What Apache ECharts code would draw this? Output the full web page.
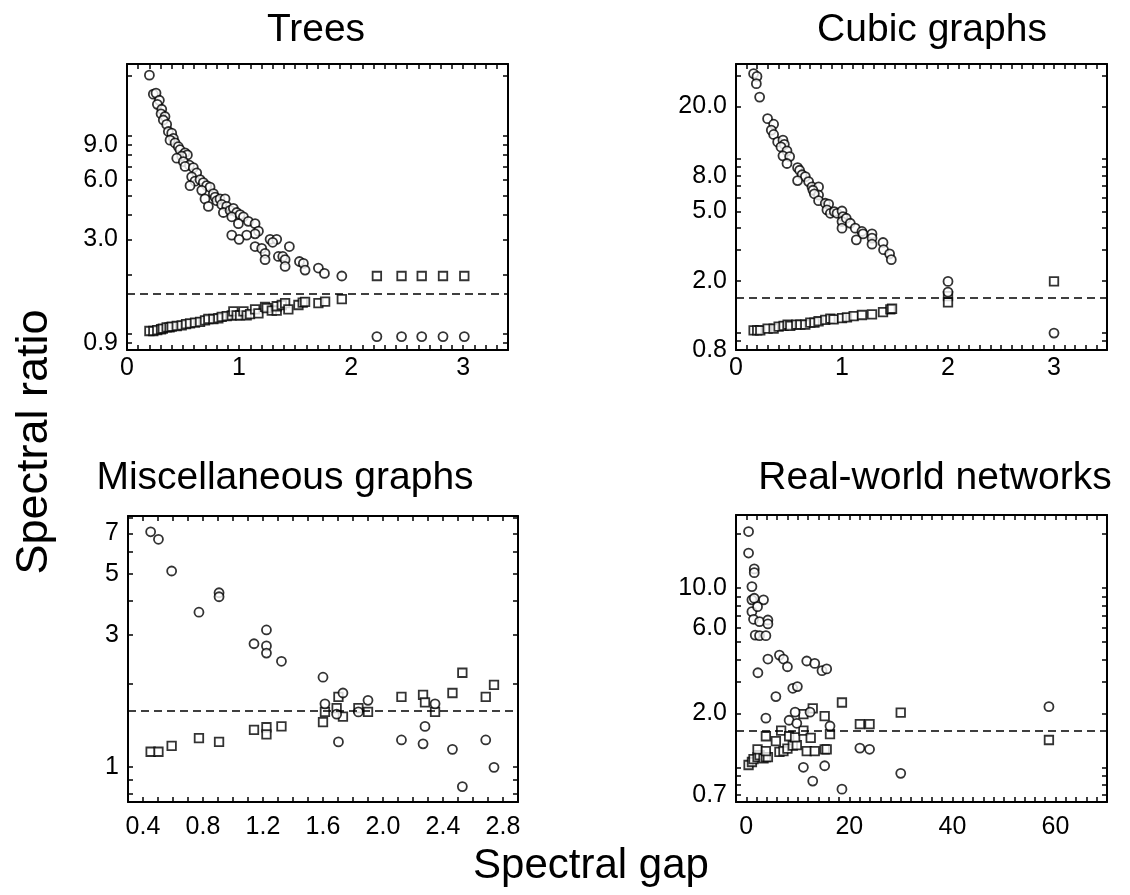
<!DOCTYPE html>
<html>
<head>
<meta charset="utf-8">
<script src="https://cdn.jsdelivr.net/npm/echarts@6/dist/echarts.min.js"></script>
<style>
  html, body { margin: 0; padding: 0; background: #fff; }
  #main { width: 1130px; height: 895px; }
</style>
</head>
<body>
<div id="main"></div>
<script>
// reference level (dashed line)
const refRatio = 1.6;

// Trees
const treesCircles = [
  [0.20,20.2],[0.235,16.2],[0.259,16.4],[0.289,15.1],[0.271,14.4],[0.31,13.6],[0.304,12.9],[0.339,12.5],
  [0.324,12.0],[0.354,11.4],[0.369,10.5],[0.399,10.3],[0.414,9.7],[0.384,9.5],[0.429,9.2],[0.458,8.8],
  [0.473,8.5],[0.518,8.2],[0.539,8.0],[0.488,7.9],[0.444,7.7],[0.503,7.4],[0.557,7.1],[0.518,7.0],
  [0.592,6.9],[0.622,6.5],[0.577,6.2],[0.607,5.9],[0.652,6.0],[0.681,5.8],[0.711,5.6],[0.741,5.5],
  [0.5625,5.6],[0.667,5.3],[0.696,4.8],[0.726,4.4],[0.771,5.1],[0.786,4.9],[0.801,4.7],[0.83,4.8],
  [0.875,4.8],[0.845,4.5],[0.89,4.4],[0.86,4.1],[0.92,4.2],[0.949,4.3],[0.979,4.1],[0.935,3.9],
  [1.009,4.0],[1.039,3.9],[0.994,3.6],[1.083,3.7],[1.143,3.6],[1.173,3.3],[1.143,3.2],[1.068,3.15],
  [0.935,3.15],[1.0,3.0],[1.277,3.0],[1.336,3.0],[1.30,2.9],[1.143,2.76],[1.202,2.7],[1.232,2.55],
  [1.232,2.37],[1.351,2.46],[1.39,2.46],[1.411,2.37],[1.411,2.19],[1.449,2.76],[1.539,2.32],[1.574,2.27],
  [1.589,2.10],[1.708,2.15],[1.762,2.02],[1.917,1.96],
  [2.23,0.97],[2.45,0.97],[2.63,0.97],[2.82,0.97],[3.01,0.97]
];
const treesSquares = [
  [0.20,1.035],[0.235,1.035],[0.27,1.045],[0.304,1.056],[0.32,1.065],[0.354,1.08],[0.38,1.08],[0.399,1.088],
  [0.444,1.097],[0.488,1.105],[0.527,1.12],[0.5625,1.13],[0.607,1.14],[0.652,1.15],[0.696,1.17],[0.726,1.19],
  [0.771,1.19],[0.815,1.2],[0.845,1.22],[0.89,1.23],[0.935,1.24],[0.949,1.30],[0.979,1.24],[1.009,1.24],
  [1.039,1.30],[1.068,1.24],[1.098,1.26],[1.143,1.33],[1.173,1.27],[1.232,1.37],[1.247,1.35],[1.292,1.31],
  [1.336,1.31],[1.336,1.38],[1.381,1.40],[1.411,1.43],[1.44,1.33],[1.53,1.40],[1.568,1.44],[1.589,1.45],
  [1.708,1.43],[1.768,1.455],[1.917,1.50],
  [2.23,1.96],[2.45,1.96],[2.63,1.96],[2.82,1.96],[3.01,1.96]
];

// Cubic graphs
const cubicCircles = [
  [0.166,30.8],[0.198,29.7],[0.192,27.0],[0.223,22.6],[0.298,17.0],[0.355,15.8],[0.333,14.6],[0.355,13.8],
  [0.393,12.5],[0.443,12.8],[0.456,12.1],[0.424,11.7],[0.481,11.1],[0.443,10.4],[0.506,10.3],[0.481,9.4],
  [0.581,8.9],[0.6,8.6],[0.623,8.1],[0.654,7.9],[0.581,7.5],[0.685,7.4],[0.717,6.9],[0.779,6.9],
  [0.726,6.6],[0.779,6.2],[0.739,6.3],[0.779,5.75],[0.842,5.56],[0.874,5.5],[0.858,5.09],[0.89,4.87],
  [0.927,4.98],[0.953,4.87],[1.0,5.02],[1.009,4.66],[1.0,4.37],[1.04,4.56],[1.0,4.0],[1.078,4.27],
  [1.125,4.0],[1.188,3.83],[1.198,3.71],[1.135,3.43],[1.283,3.71],[1.283,3.51],[1.283,3.24],[1.387,3.31],
  [1.392,3.01],[1.449,2.85],[1.465,2.64],
  [2.0,1.98],[2.0,1.72],[3.0,1.0]
];
const cubicSquares = [
  [0.166,1.036],[0.2,1.036],[0.229,1.036],[0.298,1.06],[0.355,1.06],[0.402,1.09],[0.449,1.10],[0.487,1.12],
  [0.512,1.10],[0.569,1.12],[0.607,1.12],[0.654,1.12],[0.701,1.15],[0.74,1.15],[0.779,1.17],[0.842,1.19],
  [0.89,1.21],[0.921,1.20],[1.0,1.22],[1.047,1.23],[1.11,1.25],[1.188,1.27],[1.283,1.28],[1.387,1.32],
  [1.456,1.37],[1.472,1.38],
  [2.0,1.63],[2.0,1.50],[3.0,1.98]
];

// Miscellaneous graphs
const miscCircles = [
  [0.451,7.1],[0.503,6.67],[0.591,5.12],[0.773,3.63],[0.907,4.27],[0.907,4.13],[1.14,2.79],[1.223,3.13],
  [1.223,2.74],[1.223,2.58],[1.323,2.41],[1.6,2.11],[1.613,1.69],[1.733,1.85],[1.691,1.55],[1.703,1.23],
  [1.836,1.58],[1.9,1.74],[2.123,1.25],[2.267,1.21],[2.28,1.40],[2.347,1.69],[2.463,1.156],[2.529,0.847],
  [2.685,1.25],[2.74,0.995]
];
const miscSquares = [
  [0.451,1.133],[0.503,1.133],[0.591,1.19],[0.773,1.27],[0.907,1.23],[1.14,1.36],[1.223,1.39],[1.223,1.31],
  [1.323,1.40],[1.6,1.45],[1.613,1.58],[1.691,1.63],[1.703,1.79],[1.733,1.52],[1.836,1.63],[1.9,1.58],
  [2.123,1.79],[2.267,1.82],[2.28,1.71],[2.347,1.58],[2.463,1.85],[2.529,2.19],[2.685,1.79],[2.74,1.98]
];

// Real-world networks
const realCircles = [
  [0.44,20.7],[0.44,15.7],[1.54,12.8],[1.54,12.2],[1.09,10.2],[1.09,8.6],[1.54,8.78],[3.34,8.6],
  [1.09,7.39],[2.18,7.88],[1.4,6.7],[2.57,6.5],[4.19,6.64],[4.19,6.31],[1.73,5.47],[2.57,5.43],
  [3.8,5.43],[4.19,4.02],[2.25,3.37],[6.43,4.23],[7.21,4.02],[7.98,3.64],[11.73,3.92],[13.28,3.8],
  [14.69,3.46],[15.6,3.54],[5.74,2.48],[9.02,2.76],[9.91,2.82],[3.8,1.88],[8.31,1.83],[9.8,1.76],
  [9.47,2.03],[12.37,2.03],[16.24,1.70],[11.08,1.0],[12.89,0.837],[15.21,1.02],[18.56,0.755],[22.04,1.28],
  [23.92,1.26],[29.97,0.925],[58.73,2.18]
];
const realSquares = [
  [0.44,1.03],[1.09,1.07],[1.4,1.11],[2.18,1.14],[2.57,1.17],[3.34,1.12],[3.8,1.14],[4.19,1.14],
  [2.18,1.26],[3.8,1.23],[3.8,1.49],[5.74,1.40],[6.43,1.22],[7.21,1.23],[6.76,1.60],[7.98,1.27],
  [8.31,1.49],[9.02,1.32],[9.8,1.33],[9.47,1.47],[11.08,1.60],[11.08,1.98],[12.5,1.46],[12.89,2.13],
  [11.73,1.23],[13.28,1.23],[15.21,1.26],[15.6,1.26],[15.21,1.93],[16.24,1.53],[18.56,2.30],[22.04,1.74],
  [23.92,1.74],[29.97,2.02],[58.73,1.42]
];

// tick labels
const treesXLabels = [0, 1, 2, 3];
const treesYLabels = [0.9, 3, 6, 9];
const cubicXLabels = [0, 1, 2, 3];
const cubicYLabels = [0.8, 2, 5, 8, 20];
const miscXLabels = [0.4, 0.8, 1.2, 1.6, 2.0, 2.4, 2.8];
const miscYLabels = [1, 3, 5, 7];
const realXLabels = [0, 20, 40, 60];
const realYLabels = [0.7, 2, 6, 10];

// log tick marks
const treesYTicks = [0.9, 1, 2, 3, 4, 5, 6, 7, 8, 9, 10, 20];
const cubicYTicks = [0.8, 0.9, 1, 2, 3, 4, 5, 6, 7, 8, 9, 10, 20, 30];
const miscYTicks = [0.8, 0.9, 1, 2, 3, 4, 5, 6, 7, 8];
const realYTicks = [0.7, 0.8, 0.9, 1, 2, 3, 4, 5, 6, 7, 8, 9, 10, 20];

const FONT = '"Liberation Sans", Arial, sans-serif';

const panels = [
  { title: 'Trees', tx: 316, ty: 30,
    grid: { left: 127, top: 64, width: 381, height: 286 },
    x: { min: 0, max: 3.4, interval: 0.1, labels: treesXLabels, fmt: v => String(Math.round(v)), margin: 6 },
    y: { min: 0.83, max: 23, ticks: treesYTicks, labels: treesYLabels, fmt: v => v.toFixed(1) },
    circles: treesCircles, squares: treesSquares },
  { title: 'Cubic graphs', tx: 932, ty: 30,
    grid: { left: 736, top: 64, width: 371, height: 286 },
    x: { min: 0, max: 3.5, interval: 0.1, labels: cubicXLabels, fmt: v => String(Math.round(v)), margin: 6 },
    y: { min: 0.8, max: 35, ticks: cubicYTicks, labels: cubicYLabels, fmt: v => v.toFixed(1) },
    circles: cubicCircles, squares: cubicSquares },
  { title: 'Miscellaneous graphs', tx: 285, ty: 478,
    grid: { left: 128, top: 516, width: 390, height: 286 },
    x: { min: 0.3, max: 2.9, interval: 0.1, labels: miscXLabels, fmt: v => v.toFixed(1), margin: 13 },
    y: { min: 0.745, max: 8.1, ticks: miscYTicks, labels: miscYLabels, fmt: v => String(Math.round(v)) },
    circles: miscCircles, squares: miscSquares },
  { title: 'Real-world networks', tx: 935, ty: 478,
    grid: { left: 736, top: 515, width: 371, height: 287 },
    x: { min: -2, max: 70, interval: 2, labels: realXLabels, fmt: v => String(Math.round(v)), margin: 13 },
    y: { min: 0.64, max: 25.6, ticks: realYTicks, labels: realYLabels, fmt: v => v.toFixed(1) },
    circles: realCircles, squares: realSquares }
];

const line = { show: true, onZero: false, lineStyle: { color: '#000', width: 2 } };
const tick = { inside: true, length: 5, lineStyle: { color: '#000', width: 1.5 } };
const label = { color: '#000', fontSize: 25, fontFamily: FONT };

const grid = [], xAxis = [], yAxis = [], series = [], graphic = [];

panels.forEach((p, i) => {
  grid.push(Object.assign({ containLabel: false }, p.grid));
  ['bottom', 'top'].forEach(pos => {
    xAxis.push({
      type: 'value', gridIndex: i, position: pos, min: p.x.min, max: p.x.max, interval: p.x.interval,
      axisLine: line, axisTick: tick, splitLine: { show: false },
      axisLabel: pos === 'bottom'
        ? Object.assign({ customValues: p.x.labels, formatter: p.x.fmt, margin: p.x.margin }, label)
        : { show: false }
    });
  });
  ['left', 'right'].forEach(pos => {
    yAxis.push({
      type: 'log', logBase: 10, gridIndex: i, position: pos, min: p.y.min, max: p.y.max,
      axisLine: line, axisTick: Object.assign({ customValues: p.y.ticks }, tick), splitLine: { show: false },
      axisLabel: pos === 'left'
        ? Object.assign({ customValues: p.y.labels, formatter: p.y.fmt, margin: 9 }, label)
        : { show: false }
    });
  });
  const mark = { color: '#fff', borderColor: '#000', borderWidth: 1.8 };
  series.push({
    type: 'scatter', xAxisIndex: 2 * i, yAxisIndex: 2 * i, data: p.squares,
    symbol: 'rect', symbolSize: 8.5, itemStyle: mark, silent: true, z: 3
  });
  series.push({
    type: 'scatter', xAxisIndex: 2 * i, yAxisIndex: 2 * i, data: p.circles,
    symbol: 'circle', symbolSize: 9, itemStyle: mark, silent: true, z: 4,
    markLine: {
      silent: true, symbol: 'none', label: { show: false },
      lineStyle: { color: '#000', width: 1.6, type: [8, 5] },
      data: [{ yAxis: refRatio }]
    }
  });
  graphic.push({
    type: 'text', x: p.tx, y: p.ty,
    style: { text: p.title, fontSize: 39, fontFamily: FONT, fill: '#000', align: 'center', verticalAlign: 'middle' }
  });
});

graphic.push({
  type: 'text', x: 35, y: 442, rotation: Math.PI / 2,
  style: { text: 'Spectral ratio', fontSize: 45, fontFamily: FONT, fill: '#000', align: 'center', verticalAlign: 'middle' }
});
graphic.push({
  type: 'text', x: 591, y: 866,
  style: { text: 'Spectral gap', fontSize: 42, fontFamily: FONT, fill: '#000', align: 'center', verticalAlign: 'middle' }
});

const chart = echarts.init(document.getElementById('main'), null, { renderer: 'canvas' });
chart.setOption({
  animation: false,
  backgroundColor: '#fff',
  grid: grid,
  xAxis: xAxis,
  yAxis: yAxis,
  series: series,
  graphic: graphic
});
</script>
</body>
</html>
